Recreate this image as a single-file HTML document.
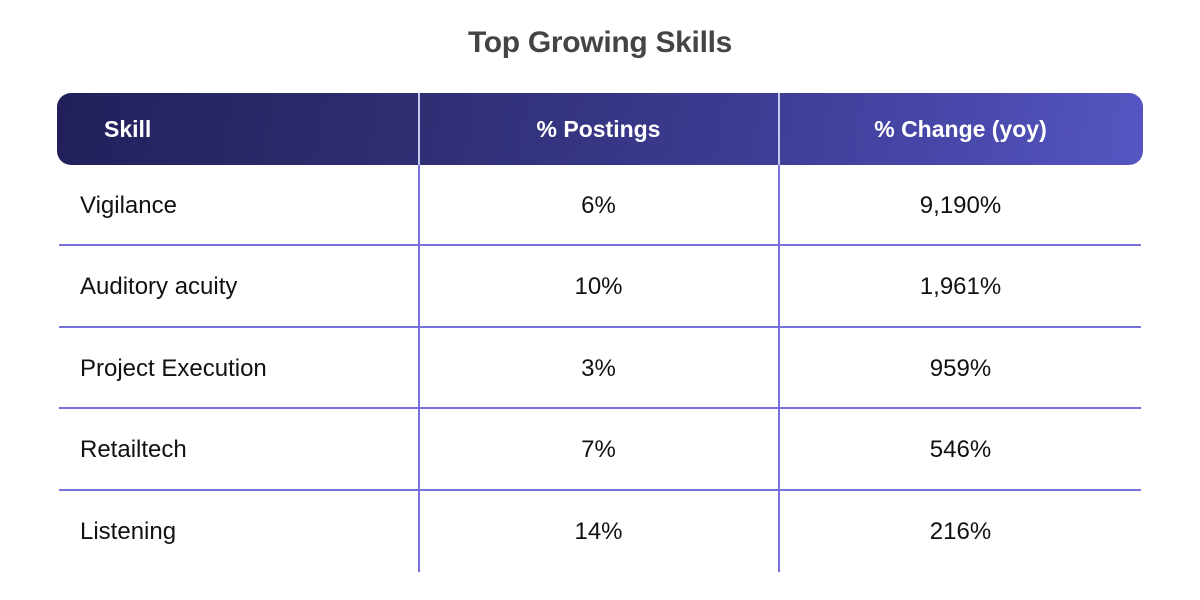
<!DOCTYPE html>
<html>
<head>
<meta charset="utf-8">
<style>
  html, body { margin:0; padding:0; background:#fff; }
  body { width:1200px; height:600px; position:relative; overflow:hidden; font-family:"Liberation Sans", Arial, sans-serif; }
  .title { position:absolute; left:0; width:1200px; top:25px; text-align:center; font-size:30px; font-weight:bold; color:#444; letter-spacing:-0.3px; line-height:36px; }
  .hdr { position:absolute; left:57px; top:93px; width:1086px; height:72px; border-radius:14px;
         background:linear-gradient(100deg, #22205a 0%, #2e2d70 30%, #3b3a8f 60%, #4a4aae 85%, #5556c2 100%); }
  .hdiv { position:absolute; top:93px; height:72px; width:2px; background:#c6c8ee; }
  .vline { position:absolute; top:165px; height:407px; width:2px; background:#7572db; }
  .hline { position:absolute; left:59px; width:1082px; height:2px; background:#7572db; }
  .ht { position:absolute; color:#fff; font-weight:bold; font-size:23px; line-height:72px; top:93px; }
  .c { position:absolute; font-size:24px; color:#111; line-height:30px; }
  .l { left:80px; }
  .m { left:419px; width:359px; text-align:center; }
  .r { left:779px; width:363px; text-align:center; }
</style>
</head>
<body>
  <div class="title">Top Growing Skills</div>

  <div class="hdr"></div>
  <div class="hdiv" style="left:418px;"></div>
  <div class="hdiv" style="left:778px;"></div>
  <div class="ht" style="left:104px;">Skill</div>
  <div class="ht" style="left:419px;width:359px;text-align:center;">% Postings</div>
  <div class="ht" style="left:779px;width:363px;text-align:center;">% Change (yoy)</div>

  <div class="vline" style="left:418px;"></div>
  <div class="vline" style="left:778px;"></div>

  <div class="hline" style="top:244px;"></div>
  <div class="hline" style="top:326px;"></div>
  <div class="hline" style="top:407px;"></div>
  <div class="hline" style="top:489px;"></div>

  <div class="c l" style="top:191px;">Vigilance</div>
  <div class="c m" style="top:191px;">6%</div>
  <div class="c r" style="top:191px;">9,190%</div>

  <div class="c l" style="top:272px;">Auditory acuity</div>
  <div class="c m" style="top:272px;">10%</div>
  <div class="c r" style="top:272px;">1,961%</div>

  <div class="c l" style="top:354px;">Project Execution</div>
  <div class="c m" style="top:354px;">3%</div>
  <div class="c r" style="top:354px;">959%</div>

  <div class="c l" style="top:435px;">Retailtech</div>
  <div class="c m" style="top:435px;">7%</div>
  <div class="c r" style="top:435px;">546%</div>

  <div class="c l" style="top:517px;">Listening</div>
  <div class="c m" style="top:517px;">14%</div>
  <div class="c r" style="top:517px;">216%</div>
</body>
</html>
